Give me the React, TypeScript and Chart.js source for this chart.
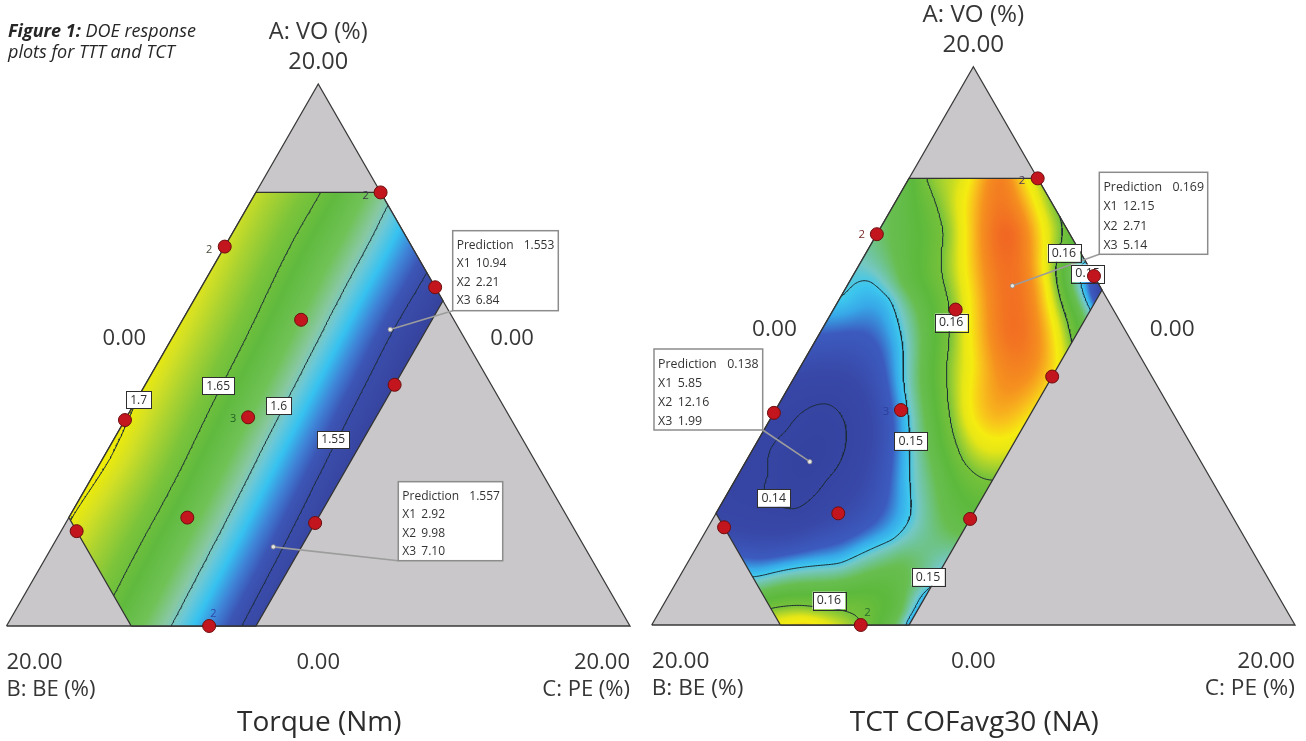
import { useEffect, useRef } from "react";
import { Chart, registerables } from "chart.js";

Chart.register(...registerables);

// ------------------------------------------------------------------ data
const captionBold = "Figure 1:";
const captionRest = " DOE response";
const captionLine2 = "plots for TTT and TCT";

const vertexLabels = ["A: VO (%)", "B: BE (%)", "C: PE (%)"];
const vertexMaxText = "20.00";
const sideMinText = "0.00";
const mixtureTotal = 20;
const lowerBound = [0, 0, 0];
const upperBound = [16, 16, 8];

// design points (X1 = A: VO, X2 = B: BE, X3 = C: PE)
const designA = [16, 14, 12.5, 11.3, 7.6, 7.7, 8.9, 3.5, 4.0, 3.8, 0];
const designB = [0, 6, 0, 4.9, 12.4, 8.4, 3.1, 16, 12.2, 8.2, 13.5];
const designC = [4, 0, 7.5, 3.8, 0, 3.9, 8, 0.5, 3.8, 8, 6.5];
const designReplicates = ["2", "2", "", "", "", "3", "", "", "", "", "2"];

// ---- Torque (Nm)
const torqueTitle = "Torque (Nm)";
const torqueLevels = [1.55, 1.6, 1.65, 1.7];
const torqueSampleA = [13.01, 10.92, 6.13, 0, 15.47, 10.92, 6.13, 0, 16, 10.92, 6.13, 1.14, 8.4, 6.13, 4.1, 10.94, 2.92, 16];
const torqueSampleC = [6.97, 6.9, 7.21, 7.54, 4.46, 4.7, 4.96, 5.28, 2.11, 2.35, 2.67, 2.89, 0, 0.26, 0.08, 6.84, 7.1, 0];
const torqueSampleV = [1.55, 1.55, 1.55, 1.55, 1.6, 1.6, 1.6, 1.6, 1.65, 1.65, 1.65, 1.65, 1.7, 1.7, 1.7, 1.553, 1.557, 1.685];
const torqueLabelText = ["1.7", "1.65", "1.6", "1.55"];
const torqueLabelA = [8.34, 8.86, 8.12, 6.88];
const torqueLabelC = [0.07, 2.36, 4.67, 7.04];
const torquePredX1 = [10.94, 2.92];
const torquePredX2 = [2.21, 9.98];
const torquePredX3 = [6.84, 7.1];
const torquePredValue = [1.553, 1.557];
const torqueColorValues = [1.53, 1.55, 1.56, 1.572, 1.584, 1.595, 1.605, 1.62, 1.64, 1.66, 1.675, 1.69, 1.702, 1.72];
const torqueColorHex = ["#36449f", "#3a4caa", "#3c56b6", "#3f86d8", "#36c2f0", "#6cc8d6", "#88c8a2", "#70c256", "#60ba3e", "#7cc43a", "#a6d132", "#d4e024", "#f0ec08", "#f5ee00"];

// ---- TCT COFavg30 (NA)
const cofTitle = "TCT COFavg30 (NA)";
const cofLevels = [0.14, 0.15, 0.16];
const cofSampleA = [
  7.92, 6.99, 5.19, 4.18, 4.36, 5.43, 6.99,
  5.85,
  11.76, 12.3, 11.64, 9.85, 7.46, 5.19, 3.88, 3.05, 2.22, 1.73,
  0.6, 0.66, 0.48, 0.12,
  16, 14.04, 11.64, 9.25, 7.46, 5.91, 5.19,
  14.27, 10.93, 10.45,
  12.84, 11.28,
  12,
  16, 15, 13.3, 12.5,
  16, 16, 16, 16,
  14, 12.15, 10.5, 9.25, 7.5, 6.6,
  9.25, 7.5, 5.91, 3.5, 2, 0,
  14, 11.64, 9.25, 7.46, 14, 12.15,
  12.3, 14, 8.6, 5.5, 2.5, 1.35, 1.2,
  0, 0, 0, 0,
  4, 3, 2.4, 1.2,
  6, 7.6, 9.5,
  3.2,
  1, 0.5, 1.5, 1,
];
const cofSampleC = [
  1.48, 2.55, 2.84, 2.42, 1.6, 0.91, 0.71,
  1.99,
  0, 0.64, 1.59, 2.89, 4.25, 5.43, 6.09, 5.94, 4.74, 2.34,
  3.43, 4.69, 5.82, 6.42,
  0.55, 2.04, 3.39, 4.54, 5.54, 6.72, 8,
  5.62, 7.44, 7.78,
  6.9, 8,
  8,
  4, 5, 6.7, 7.5,
  0, 1.65, 2.9, 3.5,
  4.1, 5.14, 5.9, 6.6, 7.0, 7.5,
  8, 8, 8, 8, 8, 8,
  2.8, 4.2, 5.3, 6.2, 5.2, 6.2,
  1.8, 0, 4.2, 6.2, 6.5, 4, 6,
  4, 4.8, 7.2, 7.8,
  0, 1, 1.6, 2.8,
  0, 0, 0,
  3.6,
  7, 7.5, 7.8, 8,
];
const cofSampleV = [
  0.14, 0.14, 0.14, 0.14, 0.14, 0.14, 0.14,
  0.138,
  0.15, 0.15, 0.15, 0.15, 0.15, 0.15, 0.15, 0.15, 0.15, 0.15,
  0.16, 0.16, 0.16, 0.16,
  0.16, 0.16, 0.16, 0.16, 0.16, 0.16, 0.16,
  0.16, 0.16, 0.16,
  0.15, 0.15,
  0.142,
  0.162, 0.1605, 0.1535, 0.146,
  0.156, 0.163, 0.168, 0.165,
  0.1695, 0.169, 0.169, 0.168, 0.166, 0.164,
  0.164, 0.1645, 0.162, 0.155, 0.1505, 0.1485,
  0.1645, 0.165, 0.164, 0.164, 0.164, 0.164,
  0.155, 0.153, 0.155, 0.155, 0.153, 0.155, 0.157,
  0.164, 0.165, 0.156, 0.1515,
  0.142, 0.1445, 0.147, 0.154,
  0.1405, 0.141, 0.1445,
  0.145,
  0.156, 0.154, 0.1512, 0.149,
];
const cofLabelText = ["0.16", "0.15", "0.16", "0.15", "0.14", "0.16", "0.15"];
const cofLabelA = [13.33, 12.6, 10.84, 6.59, 4.55, 0.88, 1.72];
const cofLabelC = [6.15, 7.25, 3.89, 4.76, 1.52, 5.07, 7.73];
const cofPredX1 = [12.15, 5.85];
const cofPredX2 = [2.71, 12.16];
const cofPredX3 = [5.14, 1.99];
const cofPredValue = [0.169, 0.138];
const cofColorValues = [0.136, 0.143, 0.1468, 0.1485, 0.1497, 0.151, 0.154, 0.157, 0.1602, 0.1615, 0.163, 0.1642, 0.1656, 0.1672, 0.1695];
const cofColorHex = ["#33409c", "#3848a8", "#3c5bbf", "#37a8e8", "#3cc6ee", "#74c8c4", "#68be50", "#5cb93c", "#78c23a", "#a8d22e", "#e6e616", "#f5ec10", "#f8c21c", "#f5901f", "#f16823"];

// ------------------------------------------------------------------ layout / style
const FONT = "'Open Sans', 'Noto Sans', sans-serif";
const TEXT_COLOR = "#363636";

const LEFT_LAYOUT = {
  width: 650, height: 741, blX: 6.5, blY: 626, brX: 630, apexY: 84, fs: 1, lineGap: 18.4,
  caption: true, smoothing: 1, predValueDigits: 3,
  boxes: [
    { x: 452.7, y: 230.7, w: 105.6, h: 80, corner: "bl" },
    { x: 398.3, y: 481.7, w: 104.4, h: 79, corner: "bl" },
  ],
  repOffsets: [[-15, 3], [-15.7, 3], [-15, 1.6], [4.3, -12.4]],
  repColors: ["#3a3a4a", "#4a4a3a", "#236023", "#2d47a8"],
};
const RIGHT_LAYOUT = {
  width: 656, height: 741, blX: 1.7, blY: 625, brX: 645, apexY: 66.7, fs: 1.03, lineGap: 19.2,
  caption: false, smoothing: 0.02, predValueDigits: 3,
  boxes: [
    { x: 449.3, y: 172.3, w: 108.4, h: 82, corner: "bl" },
    { x: 4, y: 349, w: 108.7, h: 81, corner: "br" },
  ],
  repOffsets: [[-15.6, 2], [-15, 1], [-15, 2], [6.7, -12.4]],
  repColors: ["#4a3a5a", "#7a2a2a", "#2a3f9a", "#2a6a2a"],
};

const torqueSpec = {
  title: torqueTitle, levels: torqueLevels,
  sampleA: torqueSampleA, sampleC: torqueSampleC, sampleV: torqueSampleV,
  colorValues: torqueColorValues, colorHex: torqueColorHex,
  labelText: torqueLabelText, labelA: torqueLabelA, labelC: torqueLabelC,
  predX1: torquePredX1, predX2: torquePredX2, predX3: torquePredX3, predValue: torquePredValue,
};
const cofSpec = {
  title: cofTitle, levels: cofLevels,
  sampleA: cofSampleA, sampleC: cofSampleC, sampleV: cofSampleV,
  colorValues: cofColorValues, colorHex: cofColorHex,
  labelText: cofLabelText, labelA: cofLabelA, labelC: cofLabelC,
  predX1: cofPredX1, predX2: cofPredX2, predX3: cofPredX3, predValue: cofPredValue,
};

// ------------------------------------------------------------------ helpers
const SQ = Math.sqrt(3) / 2;

// data coords: x = C + A/2, y = A
function toXY(A: number, C: number) {
  return { x: C + A / 2, y: A };
}

function regionPlanes() {
  const T = mixtureTotal;
  const comps = [
    [0, 1, 0], // A
    [-1, -0.5, T], // B
    [1, -0.5, 0], // C
  ];
  const planes: number[][] = [];
  comps.forEach(([a, b, c], k) => {
    planes.push([a, b, c - lowerBound[k]]);
    planes.push([-a, -b, upperBound[k] - c]);
  });
  return planes;
}

function regionPolygon() {
  const T = mixtureTotal;
  let poly: number[][] = [[0, 0], [T, 0], [T / 2, T]];
  for (const [a, b, c] of regionPlanes()) {
    const out: number[][] = [];
    for (let i = 0; i < poly.length; i++) {
      const p = poly[i];
      const q = poly[(i + 1) % poly.length];
      const fp = a * p[0] + b * p[1] + c;
      const fq = a * q[0] + b * q[1] + c;
      if (fp >= -1e-9) out.push(p);
      if ((fp >= -1e-9) !== (fq >= -1e-9)) {
        const t = fp / (fp - fq);
        out.push([p[0] + t * (q[0] - p[0]), p[1] + t * (q[1] - p[1])]);
      }
    }
    poly = out;
  }
  const res: number[][] = [];
  for (const p of poly) {
    const l = res[res.length - 1];
    if (!l || Math.hypot(l[0] - p[0], l[1] - p[1]) > 1e-6) res.push(p);
  }
  if (res.length > 1 && Math.hypot(res[0][0] - res[res.length - 1][0], res[0][1] - res[res.length - 1][1]) < 1e-6) res.pop();
  return res;
}

function fitSurface(sa: number[], sc: number[], sv: number[], lambda: number) {
  const n = sa.length;
  const px = sa.map((a, i) => sc[i] + a / 2);
  const py = sa.map((a) => a * SQ);
  const N = n + 3;
  const M: Float64Array[] = [];
  for (let i = 0; i < N; i++) M.push(new Float64Array(N + 1));
  const phi = (d2: number) => (d2 > 1e-12 ? 0.5 * d2 * Math.log(d2) : 0);
  for (let i = 0; i < n; i++) {
    for (let j = 0; j < n; j++) {
      const dx = px[i] - px[j];
      const dy = py[i] - py[j];
      M[i][j] = phi(dx * dx + dy * dy) + (i === j ? lambda : 0);
    }
    M[i][n] = 1; M[i][n + 1] = px[i]; M[i][n + 2] = py[i];
    M[n][i] = 1; M[n + 1][i] = px[i]; M[n + 2][i] = py[i];
    M[i][N] = sv[i];
  }
  for (let col = 0; col < N; col++) {
    let piv = col;
    for (let r = col + 1; r < N; r++) if (Math.abs(M[r][col]) > Math.abs(M[piv][col])) piv = r;
    const tmp = M[col]; M[col] = M[piv]; M[piv] = tmp;
    const d = M[col][col];
    if (Math.abs(d) < 1e-14) continue;
    for (let r = 0; r < N; r++) {
      if (r === col) continue;
      const f = M[r][col] / d;
      if (f === 0) continue;
      for (let k = col; k <= N; k++) M[r][k] -= f * M[col][k];
    }
  }
  const sol = new Float64Array(N);
  for (let i = 0; i < N; i++) sol[i] = Math.abs(M[i][i]) > 1e-14 ? M[i][N] / M[i][i] : 0;
  return (x: number, yA: number) => {
    const y = yA * SQ;
    let s = sol[n] + sol[n + 1] * x + sol[n + 2] * y;
    for (let i = 0; i < n; i++) {
      const dx = x - px[i];
      const dy = y - py[i];
      const d2 = dx * dx + dy * dy;
      if (d2 > 1e-12) s += sol[i] * 0.5 * d2 * Math.log(d2);
    }
    return s;
  };
}

function makeColormap(vals: number[], hex: string[]) {
  const rgb = hex.map((h) => [parseInt(h.slice(1, 3), 16), parseInt(h.slice(3, 5), 16), parseInt(h.slice(5, 7), 16)]);
  return (v: number) => {
    if (!(v > vals[0])) return rgb[0];
    for (let i = 1; i < vals.length; i++) {
      if (v <= vals[i]) {
        const t = (v - vals[i - 1]) / (vals[i] - vals[i - 1]);
        const a = rgb[i - 1], b = rgb[i];
        return [a[0] + (b[0] - a[0]) * t, a[1] + (b[1] - a[1]) * t, a[2] + (b[2] - a[2]) * t];
      }
    }
    return rgb[rgb.length - 1];
  };
}

function traceLevel(g: Float64Array, nx: number, ny: number, x0: number, y0: number, dx: number, dy: number, level: number) {
  const pts = new Map<string, number[]>();
  const segs: string[][] = [];
  const adj = new Map<string, number[]>();
  const add = (k: string, s: number) => {
    const l = adj.get(k);
    if (l) l.push(s); else adj.set(k, [s]);
  };
  for (let j = 0; j < ny - 1; j++) {
    for (let i = 0; i < nx - 1; i++) {
      const v0 = g[j * nx + i], v1 = g[j * nx + i + 1], v2 = g[(j + 1) * nx + i + 1], v3 = g[(j + 1) * nx + i];
      const b0 = v0 > level, b1 = v1 > level, b2 = v2 > level, b3 = v3 > level;
      if (b0 === b1 && b1 === b2 && b2 === b3) continue;
      const E: (string | null)[] = [null, null, null, null];
      if (b0 !== b1) {
        const k = "h" + i + "_" + j; const t = (level - v0) / (v1 - v0);
        pts.set(k, [x0 + (i + t) * dx, y0 + j * dy]); E[0] = k;
      }
      if (b1 !== b2) {
        const k = "v" + (i + 1) + "_" + j; const t = (level - v1) / (v2 - v1);
        pts.set(k, [x0 + (i + 1) * dx, y0 + (j + t) * dy]); E[1] = k;
      }
      if (b3 !== b2) {
        const k = "h" + i + "_" + (j + 1); const t = (level - v3) / (v2 - v3);
        pts.set(k, [x0 + (i + t) * dx, y0 + (j + 1) * dy]); E[2] = k;
      }
      if (b0 !== b3) {
        const k = "v" + i + "_" + j; const t = (level - v0) / (v3 - v0);
        pts.set(k, [x0 + i * dx, y0 + (j + t) * dy]); E[3] = k;
      }
      const pairs: number[][] = [];
      const present = [0, 1, 2, 3].filter((e) => E[e] !== null);
      if (present.length === 2) pairs.push(present);
      else if (present.length === 4) {
        const c = (v0 + v1 + v2 + v3) / 4 > level;
        if (c === b0) { pairs.push([0, 1]); pairs.push([2, 3]); }
        else { pairs.push([3, 0]); pairs.push([1, 2]); }
      }
      for (const [a, b] of pairs) {
        const s = segs.length;
        segs.push([E[a] as string, E[b] as string]);
        add(E[a] as string, s);
        add(E[b] as string, s);
      }
    }
  }
  const used = new Uint8Array(segs.length);
  const lines: number[][][] = [];
  const next = (k: string) => {
    const l = adj.get(k) || [];
    for (const s of l) if (!used[s]) return s;
    return -1;
  };
  for (let s = 0; s < segs.length; s++) {
    if (used[s]) continue;
    used[s] = 1;
    const chain = [segs[s][0], segs[s][1]];
    let end = chain[1];
    for (;;) {
      const n2 = next(end);
      if (n2 < 0) break;
      used[n2] = 1;
      end = segs[n2][0] === end ? segs[n2][1] : segs[n2][0];
      chain.push(end);
    }
    let start = chain[0];
    for (;;) {
      const n2 = next(start);
      if (n2 < 0) break;
      used[n2] = 1;
      start = segs[n2][0] === start ? segs[n2][1] : segs[n2][0];
      chain.unshift(start);
    }
    lines.push(chain.map((k) => pts.get(k) as number[]));
  }
  return lines;
}

function clipPolyline(line: number[][], planes: number[][]) {
  const out: number[][][] = [];
  let cur: number[][] = [];
  for (let i = 0; i < line.length - 1; i++) {
    const p = line[i], q = line[i + 1];
    let t0 = 0, t1 = 1, ok = true;
    for (const [a, b, c] of planes) {
      const fp = a * p[0] + b * p[1] + c;
      const fq = a * q[0] + b * q[1] + c;
      if (fp < 0 && fq < 0) { ok = false; break; }
      if (fp < 0) t0 = Math.max(t0, fp / (fp - fq));
      else if (fq < 0) t1 = Math.min(t1, fp / (fp - fq));
    }
    if (!ok || t0 > t1) {
      if (cur.length > 1) out.push(cur);
      cur = [];
      continue;
    }
    const A = [p[0] + (q[0] - p[0]) * t0, p[1] + (q[1] - p[1]) * t0];
    const B = [p[0] + (q[0] - p[0]) * t1, p[1] + (q[1] - p[1]) * t1];
    if (t0 > 0 || cur.length === 0) {
      if (cur.length > 1) out.push(cur);
      cur = [A];
    }
    cur.push(B);
    if (t1 < 1) { out.push(cur); cur = []; }
  }
  if (cur.length > 1) out.push(cur);
  return out;
}

function textAt(ctx: CanvasRenderingContext2D, s: string, x: number, y: number, font: string, color: string, align: CanvasTextAlign = "center", baseline: CanvasTextBaseline = "alphabetic") {
  ctx.font = font;
  ctx.fillStyle = color;
  ctx.textAlign = align;
  ctx.textBaseline = baseline;
  ctx.fillText(s, x, y);
}

// ------------------------------------------------------------------ chart
function buildChart(canvas: HTMLCanvasElement, spec: any, layout: any) {
  const T = mixtureTotal;
  const kx = (layout.brX - layout.blX) / T;
  const ky = (layout.blY - layout.apexY) / T;
  const xMin = -layout.blX / kx, xMax = (layout.width - layout.blX) / kx;
  const yMin = (layout.blY - layout.height) / ky, yMax = layout.blY / ky;

  const surf = fitSurface(spec.sampleA, spec.sampleC, spec.sampleV, layout.smoothing);
  const cmap = makeColormap(spec.colorValues, spec.colorHex);
  const planes = regionPlanes();
  const hex = regionPolygon();

  let gx0 = Infinity, gx1 = -Infinity, gy0 = Infinity, gy1 = -Infinity;
  hex.forEach(([x, y]) => { gx0 = Math.min(gx0, x); gx1 = Math.max(gx1, x); gy0 = Math.min(gy0, y); gy1 = Math.max(gy1, y); });
  gx0 -= 0.3; gx1 += 0.3; gy0 -= 0.3; gy1 += 0.3;
  const gdx = 0.05, gdy = 0.055;
  const nx = Math.ceil((gx1 - gx0) / gdx) + 1;
  const ny = Math.ceil((gy1 - gy0) / gdy) + 1;
  const grid = new Float64Array(nx * ny);
  for (let j = 0; j < ny; j++) for (let i = 0; i < nx; i++) grid[j * nx + i] = surf(gx0 + i * gdx, gy0 + j * gdy);
  const contourData: any[] = [];
  spec.levels.forEach((lv: number) => {
    traceLevel(grid, nx, ny, gx0, gy0, gdx, gdy, lv).forEach((line) => {
      clipPolyline(line, planes).forEach((pl) => {
        if (pl.length < 2) return;
        pl.forEach((p) => contourData.push({ x: p[0], y: p[1] }));
        contourData.push({ x: pl[pl.length - 1][0], y: null });
      });
    });
  });

  const designPts = designA.map((a, i) => toXY(a, designC[i]));
  const hexPts = hex.concat([hex[0]]).map(([x, y]) => ({ x, y }));
  const triFill = [{ x: 0, y: 0 }, { x: T / 2, y: T }, { x: T, y: 0 }];
  const triOutline = [{ x: 0, y: 0 }, { x: T / 2, y: T }, { x: T, y: 0 }, { x: 0, y: 0 }];

  let heat: any = null;
  const fs = layout.fs;

  const decor = {
    id: "ternaryDecor",
    afterDatasetDraw(chart: any, args: any) {
      const ctx: CanvasRenderingContext2D = chart.ctx;
      const xs = chart.scales.x, ys = chart.scales.y;
      const P = (x: number, y: number) => [xs.getPixelForValue(x), ys.getPixelForValue(y)];
      if (args.index === 3) {
        const pix = hex.map(([x, y]) => P(x, y));
        if (!heat) {
          let x0 = Infinity, x1 = -Infinity, y0 = Infinity, y1 = -Infinity;
          pix.forEach(([x, y]) => { x0 = Math.min(x0, x); x1 = Math.max(x1, x); y0 = Math.min(y0, y); y1 = Math.max(y1, y); });
          x0 = Math.floor(x0) - 2; y0 = Math.floor(y0) - 2; x1 = Math.ceil(x1) + 2; y1 = Math.ceil(y1) + 2;
          const w = x1 - x0, h = y1 - y0;
          const off = document.createElement("canvas");
          off.width = w; off.height = h;
          const octx = off.getContext("2d") as CanvasRenderingContext2D;
          const img = octx.createImageData(w, h);
          for (let py = 0; py < h; py++) {
            const yv = ys.getValueForPixel(y0 + py + 0.5);
            for (let px = 0; px < w; px++) {
              const xv = xs.getValueForPixel(x0 + px + 0.5);
              let inside = true;
              for (const [a, b, c] of planes) if (a * xv + b * yv + c < -0.12) { inside = false; break; }
              if (!inside) continue;
              const col = cmap(surf(xv, yv));
              const o = (py * w + px) * 4;
              img.data[o] = col[0]; img.data[o + 1] = col[1]; img.data[o + 2] = col[2]; img.data[o + 3] = 255;
            }
          }
          octx.putImageData(img, 0, 0);
          heat = { off, x0, y0 };
        }
        ctx.save();
        ctx.beginPath();
        pix.forEach(([x, y], i) => (i ? ctx.lineTo(x, y) : ctx.moveTo(x, y)));
        ctx.closePath();
        ctx.clip();
        ctx.drawImage(heat.off, heat.x0, heat.y0);
        ctx.restore();
      }
      if (args.index === 1) {
        ctx.save();
        spec.predX1.forEach((a: number, i: number) => {
          const q = toXY(a, spec.predX3[i]);
          const [px, py] = P(q.x, q.y);
          const b = layout.boxes[i];
          const cx = b.corner === "br" ? b.x + b.w : b.x;
          const cy = b.y + b.h;
          ctx.strokeStyle = "#9c9c9c";
          ctx.lineWidth = 1.6;
          ctx.beginPath(); ctx.moveTo(px, py); ctx.lineTo(cx, cy); ctx.stroke();
          ctx.fillStyle = "#e6e6e6";
          ctx.strokeStyle = "#8a8a8a";
          ctx.lineWidth = 0.8;
          ctx.beginPath(); ctx.arc(px, py, 2.2, 0, Math.PI * 2); ctx.fill(); ctx.stroke();
        });
        spec.labelText.forEach((t: string, i: number) => {
          const q = toXY(spec.labelA[i], spec.labelC[i]);
          const [px, py] = P(q.x, q.y);
          ctx.font = `${12 * fs}px ${FONT}`;
          const w = ctx.measureText(t).width + 8 * fs;
          const h = 17 * fs;
          ctx.fillStyle = "#ffffff";
          ctx.fillRect(px - w / 2, py - h / 2, w, h);
          ctx.strokeStyle = "#2e2e2e";
          ctx.lineWidth = 1;
          ctx.strokeRect(Math.round(px - w / 2) + 0.5, Math.round(py - h / 2) + 0.5, Math.round(w), Math.round(h));
          textAt(ctx, t, px, py + 0.5, `${12 * fs}px ${FONT}`, "#2e2e2e", "center", "middle");
        });
        ctx.restore();
      }
    },
    afterDatasetsDraw(chart: any) {
      const ctx: CanvasRenderingContext2D = chart.ctx;
      const xs = chart.scales.x, ys = chart.scales.y;
      const P = (x: number, y: number) => [xs.getPixelForValue(x), ys.getPixelForValue(y)];
      ctx.save();
      let r = 0;
      designReplicates.forEach((lab, i) => {
        if (!lab) return;
        const q = toXY(designA[i], designC[i]);
        const [px, py] = P(q.x, q.y);
        const [ox, oy] = layout.repOffsets[r];
        textAt(ctx, lab, px + ox, py + oy, `${11 * fs}px ${FONT}`, layout.repColors[r], "center", "middle");
        r++;
      });
      spec.predX1.forEach((a: number, i: number) => {
        const b = layout.boxes[i];
        ctx.fillStyle = "#ffffff";
        ctx.fillRect(b.x, b.y, b.w, b.h);
        ctx.strokeStyle = "#8c8c8c";
        ctx.lineWidth = 1.5;
        ctx.strokeRect(b.x, b.y, b.w, b.h);
        const f = `${12 * fs}px ${FONT}`;
        const tx = b.x + 4 * fs;
        const base = b.y + 18.3 * fs;
        textAt(ctx, "Prediction", tx, base, f, "#333", "left");
        textAt(ctx, spec.predValue[i].toFixed(layout.predValueDigits), tx + 67 * fs, base, f, "#333", "left");
        const vals = [a, spec.predX2[i], spec.predX3[i]];
        vals.forEach((v: number, k: number) => {
          const yb = base + (k + 1) * layout.lineGap;
          textAt(ctx, "X" + (k + 1), tx, yb, f, "#333", "left");
          textAt(ctx, v.toFixed(2), tx + 19 * fs, yb, f, "#333", "left");
        });
      });
      const apex = P(T / 2, T);
      const bl = P(0, 0);
      const br = P(T, 0);
      const lf = `${22 * fs}px ${FONT}`;
      const tf = `${23.5 * fs}px ${FONT}`;
      textAt(ctx, vertexLabels[0], apex[0], apex[1] - 45, tf, TEXT_COLOR);
      textAt(ctx, vertexMaxText, apex[0], apex[1] - 15, tf, TEXT_COLOR);
      const ml = [(apex[0] + bl[0]) / 2, (apex[1] + bl[1]) / 2];
      const mr = [(apex[0] + br[0]) / 2, (apex[1] + br[1]) / 2];
      textAt(ctx, sideMinText, ml[0] - 38, ml[1] - 10, lf, TEXT_COLOR);
      textAt(ctx, sideMinText, mr[0] + 38, mr[1] - 10, lf, TEXT_COLOR);
      textAt(ctx, sideMinText, (bl[0] + br[0]) / 2, bl[1] + 42.5, lf, TEXT_COLOR);
      textAt(ctx, vertexMaxText, bl[0], bl[1] + 43, lf, TEXT_COLOR, "left");
      textAt(ctx, vertexLabels[1], bl[0], bl[1] + 70, lf, TEXT_COLOR, "left");
      textAt(ctx, vertexMaxText, br[0], br[1] + 43, lf, TEXT_COLOR, "right");
      textAt(ctx, vertexLabels[2], br[0], br[1] + 70, lf, TEXT_COLOR, "right");
      textAt(ctx, spec.title, apex[0] + 1, 731, `28px ${FONT}`, "#2c2c2c");
      if (layout.caption) {
        const bf = `italic bold 18px ${FONT}`;
        const itf = `italic 18px ${FONT}`;
        ctx.font = bf;
        const w0 = ctx.measureText(captionBold).width;
        textAt(ctx, captionBold, 8, 36.5, bf, "#262626", "left");
        textAt(ctx, captionRest, 8 + w0, 36.5, itf, "#262626", "left");
        textAt(ctx, captionLine2, 8, 58, itf, "#262626", "left");
      }
      ctx.restore();
    },
  };

  return new Chart(canvas, {
    type: "scatter",
    data: {
      datasets: [
        {
          type: "scatter", data: designPts, pointRadius: 6.5, pointBackgroundColor: "#c2151e",
          pointBorderColor: "#6e0e0e", pointBorderWidth: 1, order: 1,
        },
        {
          type: "line", data: hexPts, borderColor: "#333333", borderWidth: 1.3, pointRadius: 0,
          fill: false, borderJoinStyle: "miter", order: 2,
        },
        {
          type: "line", data: contourData, borderColor: "#1c2c36", borderWidth: 1, pointRadius: 0,
          fill: false, spanGaps: false, order: 3,
        },
        {
          type: "line", data: triOutline, borderColor: "#3a3a3a", borderWidth: 1.3, pointRadius: 0,
          fill: false, borderJoinStyle: "miter", order: 4,
        },
        {
          type: "line", data: triFill, borderWidth: 0, borderColor: "rgba(0,0,0,0)",
          backgroundColor: "#c9c7c9", fill: "origin", pointRadius: 0, order: 5,
        },
      ],
    } as any,
    options: {
      animation: false,
      responsive: false,
      events: [],
      layout: { padding: 0, autoPadding: false },
      scales: {
        x: { type: "linear", min: xMin, max: xMax, display: false },
        y: { type: "linear", min: yMin, max: yMax, display: false },
      },
      plugins: { legend: { display: false }, tooltip: { enabled: false }, title: { display: false } },
    } as any,
    plugins: [decor as any],
  });
}

export default function App() {
  const leftRef = useRef<HTMLCanvasElement>(null);
  const rightRef = useRef<HTMLCanvasElement>(null);
  useEffect(() => {
    const charts = [
      buildChart(leftRef.current as HTMLCanvasElement, torqueSpec, LEFT_LAYOUT),
      buildChart(rightRef.current as HTMLCanvasElement, cofSpec, RIGHT_LAYOUT),
    ];
    return () => charts.forEach((c) => c.destroy());
  }, []);
  return (
    <div style={{ position: "absolute", left: 0, top: 0, width: 1306, height: 741, background: "#ffffff", overflow: "hidden" }}>
      <canvas ref={leftRef} width={650} height={741} style={{ position: "absolute", left: 0, top: 0 }} />
      <canvas ref={rightRef} width={656} height={741} style={{ position: "absolute", left: 650, top: 0 }} />
    </div>
  );
}
